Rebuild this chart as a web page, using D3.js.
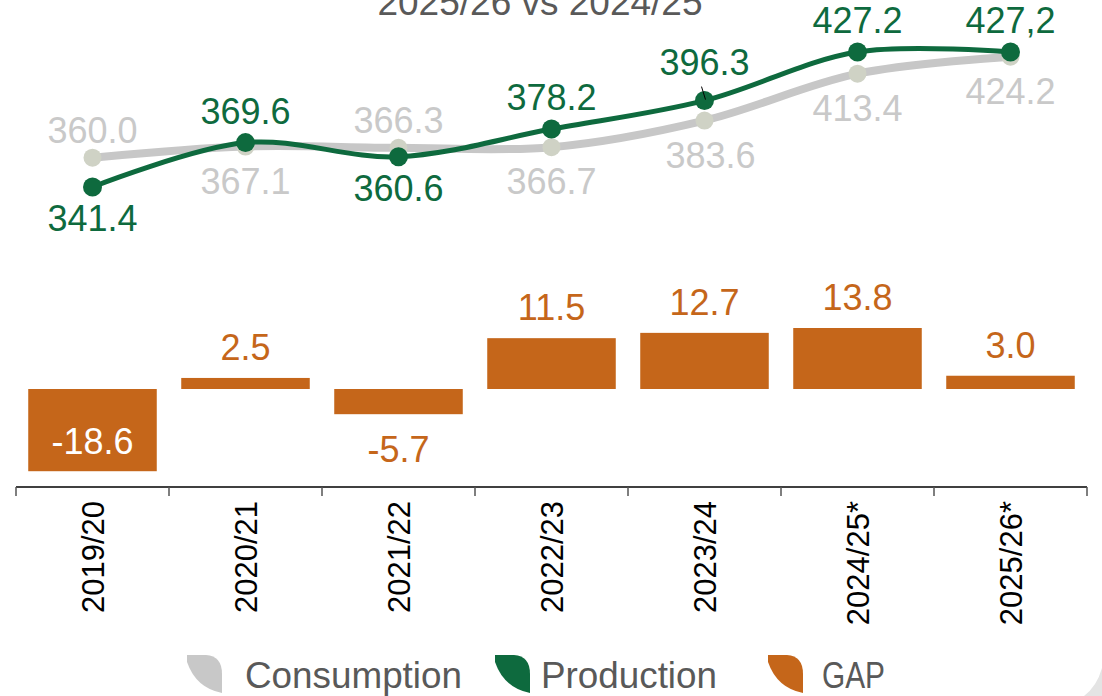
<!DOCTYPE html>
<html>
<head>
<meta charset="utf-8">
<script src="https://cdn.jsdelivr.net/npm/d3@7"></script>
<style>
  html, body { margin: 0; padding: 0; background: #fff; }
  svg { display: block; font-family: "Liberation Sans", Arial, sans-serif; }
</style>
</head>
<body>
<svg id="chart" width="1102" height="696"></svg>
<script>
// data
const seasons = ['2019/20', '2020/21', '2021/22', '2022/23', '2023/24', '2024/25*', '2025/26*'];
const consumption = [360.0, 367.1, 366.3, 366.7, 383.6, 413.4, 424.2];
const production = [341.4, 369.6, 360.6, 378.2, 396.3, 427.2, 427.2];
const gap = [-18.6, 2.5, -5.7, 11.5, 12.7, 13.8, 3.0];
const productionText = ['341.4', '369.6', '360.6', '378.2', '396.3', '427.2', '427,2'];
const consumptionSide = ['above', 'below', 'above', 'below', 'below', 'below', 'below'];
const productionSide = ['below', 'above', 'below', 'above', 'above', 'above', 'above'];
const legendItems = ['Consumption', 'Production', 'GAP'];

const green = '#0e6a3e';
const greyLine = '#c7c7c7';
const greyText = '#c9c9c9';
const orange = '#c5661a';

const svg = d3.select('#chart');

// faint frame corner at bottom right
svg.append('path')
    .attr('d', 'M1102,668 L1102,696 L1084,696 Q1097,686 1102,668 Z')
    .style('fill', '#e4e4e4');

const x = d3.scaleBand().domain(seasons).range([16, 1087]).paddingInner(0.16).paddingOuter(0.08);
const cx = d => x(d) + x.bandwidth() / 2;

const yLine = d3.scaleLinear().domain([300, 450]).range([252.1, 16.1]);
const yBar = d3.scaleLinear().domain([-20, 20]).range([477.4, 300.6]);

// title (cut off at the top, as in the source)
svg.append('text')
    .attr('x', 540).attr('y', 15)
    .attr('text-anchor', 'middle')
    .style('font-size', '37px')
    .style('fill', '#595959')
    .text('2025/26 vs 2024/25');

// lines
const line = d3.line()
    .x((d, i) => cx(seasons[i]))
    .y(d => yLine(d))
    .curve(d3.curveCatmullRom.alpha(0.5));

svg.append('path').datum(consumption)
    .attr('d', line)
    .style('fill', 'none')
    .style('stroke', greyLine)
    .style('stroke-width', 8)
    .style('stroke-linecap', 'round');

svg.selectAll('.cons-dot').data(consumption).join('circle')
    .attr('class', 'cons-dot')
    .attr('cx', (d, i) => cx(seasons[i]))
    .attr('cy', d => yLine(d))
    .attr('r', 9)
    .style('fill', '#cfd2c5');

svg.append('path').datum(production)
    .attr('d', line)
    .style('fill', 'none')
    .style('stroke', green)
    .style('stroke-width', 5);

svg.selectAll('.prod-dot').data(production).join('circle')
    .attr('class', 'prod-dot')
    .attr('cx', (d, i) => cx(seasons[i]))
    .attr('cy', d => yLine(d))
    .attr('r', 9.5)
    .style('fill', green);

// little leader line at 2023/24
svg.append('line')
    .attr('x1', cx(seasons[4]) - 3).attr('y1', yLine(production[4]) - 14)
    .attr('x2', cx(seasons[4]) + 1).attr('y2', yLine(production[4]) - 1)
    .style('stroke', '#000').style('stroke-width', 1);

// line labels
svg.selectAll('.cons-label').data(consumption).join('text')
    .attr('class', 'cons-label')
    .attr('x', (d, i) => cx(seasons[i]) + (i === 4 ? 6 : 0))
    .attr('y', (d, i) => yLine(d) + (consumptionSide[i] === 'above' ? -15 : 47))
    .attr('text-anchor', 'middle')
    .style('font-size', '36px')
    .style('fill', greyText)
    .text(d => d.toFixed(1));

svg.selectAll('.prod-label').data(production).join('text')
    .attr('class', 'prod-label')
    .attr('x', (d, i) => cx(seasons[i]))
    .attr('y', (d, i) => yLine(d) + (productionSide[i] === 'above' ? (i === 4 ? -26 : -19) : 44))
    .attr('text-anchor', 'middle')
    .style('font-size', '36px')
    .style('fill', green)
    .text((d, i) => productionText[i]);

// gap bars
svg.selectAll('.bar').data(gap).join('rect')
    .attr('class', 'bar')
    .attr('x', (d, i) => x(seasons[i]))
    .attr('width', x.bandwidth())
    .attr('y', d => yBar(Math.max(0, d)))
    .attr('height', d => Math.abs(yBar(d) - yBar(0)))
    .style('fill', orange);

svg.selectAll('.bar-label').data(gap).join('text')
    .attr('class', 'bar-label')
    .attr('x', (d, i) => cx(seasons[i]))
    .attr('y', d => d >= 0 ? yBar(d) - 18 : (d < -10 ? yBar(d) - 17 : yBar(d) + 48))
    .attr('text-anchor', 'middle')
    .style('font-size', '36px')
    .style('fill', d => d < -10 ? '#fff' : orange)
    .text(d => d.toFixed(1));

// category axis, ticks between the bands
const axisY = 487;
const g = svg.append('g');
g.append('line')
    .attr('x1', 16).attr('x2', 1087)
    .attr('y1', axisY).attr('y2', axisY)
    .style('stroke', '#000').style('stroke-width', 1.5);
const edges = seasons.map(s => x(s) - x.step() * x.paddingInner() / 2).concat([1087]);
edges[0] = 16;
g.selectAll('.tick').data(edges).join('line')
    .attr('class', 'tick')
    .attr('x1', d => d).attr('x2', d => d)
    .attr('y1', axisY).attr('y2', axisY + 9)
    .style('stroke', '#555').style('stroke-width', 1.5);
g.selectAll('.tick-label').data(seasons).join('text')
    .attr('class', 'tick-label')
    .attr('transform', d => `translate(${cx(d)},${axisY + 14}) rotate(-90)`)
    .attr('text-anchor', 'end')
    .attr('dy', '0.36em')
    .style('font-size', '31px')
    .style('fill', '#000')
    .text(d => d);

// legend
const legendColors = ['#c8c8c8', green, orange];
const legendX = [187, 495, 768];
const legendTextX = [245, 541, 822];
const legendTextW = [217, 176, 63];
const leaf = 'M0,0 L19,0 Q35,1 35,19 L35,38 Q9,33 0,7 Z';
const lg = svg.selectAll('.legend').data(legendItems).join('g')
    .attr('class', 'legend');
lg.append('path')
    .attr('transform', (d, i) => `translate(${legendX[i]},655)`)
    .attr('d', leaf).style('fill', (d, i) => legendColors[i]);
lg.append('text')
    .attr('x', (d, i) => legendTextX[i])
    .attr('y', 688)
    .attr('textLength', (d, i) => legendTextW[i])
    .attr('lengthAdjust', 'spacingAndGlyphs')
    .style('font-size', '37px')
    .style('fill', '#595959')
    .text(d => d);
</script>
</body>
</html>
